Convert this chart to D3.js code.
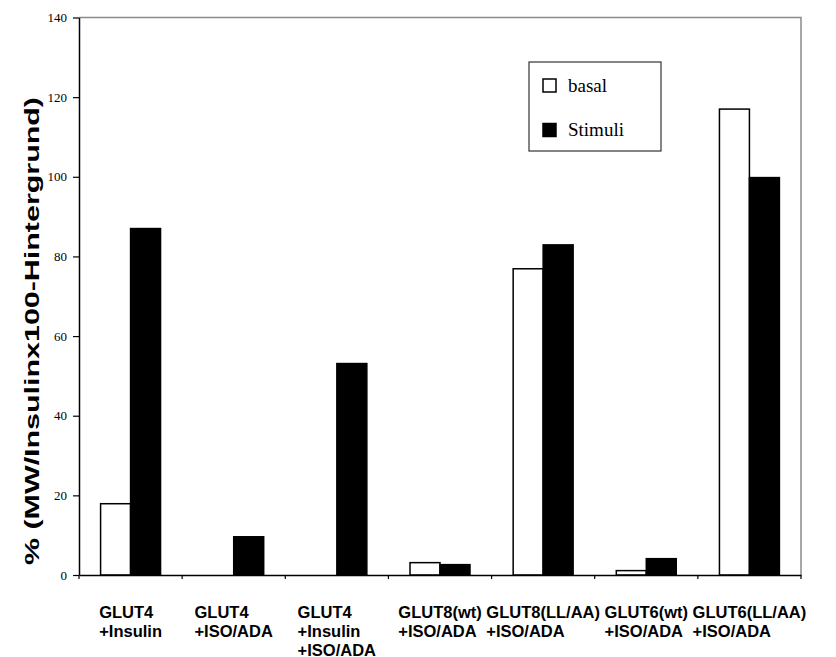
<!DOCTYPE html>
<html>
<head>
<meta charset="utf-8">
<script src="https://cdn.jsdelivr.net/npm/d3@7"></script>
<style>
  html, body { margin: 0; padding: 0; background: #fff; }
  svg { display: block; }
</style>
</head>
<body>
<svg id="chart" width="836" height="657"></svg>
<script>
// ---- data ----
const categories = [
  ["GLUT4", "+Insulin"],
  ["GLUT4", "+ISO/ADA"],
  ["GLUT4", "+Insulin", "+ISO/ADA"],
  ["GLUT8(wt)", "+ISO/ADA"],
  ["GLUT8(LL/AA)", "+ISO/ADA"],
  ["GLUT6(wt)", "+ISO/ADA"],
  ["GLUT6(LL/AA)", "+ISO/ADA"]
];
const seriesNames = ["basal", "Stimuli"];
const basalValues = [17.9, 0, 0, 3.1, 76.9, 1.1, 117];
const stimuliValues = [87, 9.6, 53.1, 2.6, 82.9, 4.1, 99.8];
const yTicks = [0, 20, 40, 60, 80, 100, 120, 140];
const yTitle = "% (MW/Insulinx100-Hintergrund)";

// ---- layout ----
const svg = d3.select("#chart");
const mLeft = 79, mRight = 801, mTop = 17.5, mBottom = 575;

const catKeys = categories.map((c, i) => "c" + i);
const x0 = d3.scaleBand().domain(catKeys).range([mLeft, mRight]).padding(0);
const x1 = d3.scaleBand().domain(seriesNames).range([0, x0.bandwidth()])
  .paddingInner(0).paddingOuter(0.72);
const y = d3.scaleLinear().domain([0, 140]).range([mBottom, mTop]);

const fills = { basal: "#ffffff", Stimuli: "#000000" };
const data = categories.map((c, i) => ({
  key: catKeys[i], lines: c,
  vals: [{ s: "basal", v: basalValues[i] }, { s: "Stimuli", v: stimuliValues[i] }]
}));

// frame (top & right, gray)
svg.append("path")
  .attr("d", `M${mLeft},${mTop}H${mRight}V${mBottom}`)
  .attr("fill", "none").attr("stroke", "#8a8a8a").attr("stroke-width", 1.5);

// bars
const groups = svg.append("g").selectAll("g").data(data).join("g")
  .attr("transform", d => `translate(${x0(d.key)},0)`);
groups.selectAll("rect").data(d => d.vals.filter(e => e.v > 0)).join("rect")
  .attr("x", e => x1(e.s))
  .attr("width", x1.bandwidth())
  .attr("y", e => y(e.v))
  .attr("height", e => y(0) - y(e.v))
  .attr("fill", e => fills[e.s])
  .attr("stroke", "#000").attr("stroke-width", 1.5);

// y axis
const yAxis = d3.axisLeft(y).tickValues(yTicks).tickSize(6).tickSizeOuter(0).tickPadding(6);
const yg = svg.append("g").attr("transform", `translate(${mLeft},0)`).call(yAxis);
yg.select(".domain").attr("stroke", "#000").attr("stroke-width", 1.5);
yg.selectAll(".tick line").attr("stroke", "#000").attr("stroke-width", 1.2);
yg.selectAll(".tick text")
  .attr("font-family", "'Liberation Serif', 'Times New Roman', serif")
  .attr("font-size", 13).attr("fill", "#000");

// x axis
const xAxis = d3.axisBottom(x0).tickSize(0).tickFormat("");
const xg = svg.append("g").attr("transform", `translate(0,${mBottom})`).call(xAxis);
xg.select(".domain").attr("stroke", "#000").attr("stroke-width", 1.5);
// category boundary ticks
const bounds = catKeys.map(k => x0(k)).concat([mRight]);
xg.selectAll("line.bt").data(bounds).join("line").attr("class", "bt")
  .attr("x1", d => d).attr("x2", d => d).attr("y1", 0).attr("y2", 4)
  .attr("stroke", "#000").attr("stroke-width", 1.2);

// x labels (block centered, lines left aligned)
const lineBase = [617.5, 636.5, 655.5];
data.forEach(d => {
  const t = svg.append("text")
    .attr("font-family", "'Liberation Sans', Arial, sans-serif")
    .attr("font-weight", "bold").attr("font-size", 16.5).attr("fill", "#000");
  d.lines.forEach((ln, j) => {
    t.append("tspan").attr("x", 0).attr("y", lineBase[j]).text(ln);
  });
  const w = t.node().getBBox().width;
  const cx = x0(d.key) + x0.bandwidth() / 2;
  t.attr("transform", `translate(${cx - w / 2},0)`);
});

// y title
svg.append("text")
  .attr("transform", `translate(38.5,331) rotate(-90)`)
  .attr("text-anchor", "middle")
  .attr("font-family", "'Liberation Sans', Arial, sans-serif")
  .attr("font-weight", "bold").attr("font-size", 20.5)
  .attr("textLength", 468).attr("lengthAdjust", "spacingAndGlyphs")
  .text(yTitle);

// legend
const lg = svg.append("g");
lg.append("rect").attr("x", 529).attr("y", 62).attr("width", 132).attr("height", 89)
  .attr("fill", "#fff").attr("stroke", "#333").attr("stroke-width", 1.2);
const legY = [79, 123.5];
seriesNames.forEach((s, i) => {
  lg.append("rect").attr("x", 543).attr("y", legY[i]).attr("width", 13).attr("height", 13)
    .attr("fill", fills[s]).attr("stroke", "#000").attr("stroke-width", 1.5);
  lg.append("text").attr("x", 568).attr("y", legY[i] + 12.5)
    .attr("font-family", "'Liberation Serif', 'Times New Roman', serif")
    .attr("font-size", 19).attr("fill", "#000").text(s);
});
</script>
</body>
</html>
